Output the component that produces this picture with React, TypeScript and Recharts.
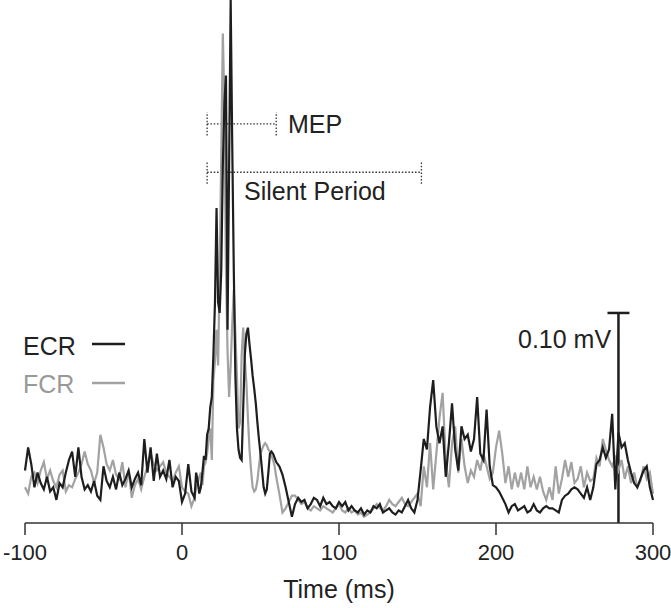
import { LineChart, Line, XAxis, YAxis, ReferenceLine } from "recharts";

// time in ms (2 ms steps, 1 ms around the MEP)
const time = [
  -100, -98, -96, -94, -92, -90, -88, -86, -84, -82,
  -80, -78, -76, -74, -72, -70, -68, -66, -64, -62,
  -60, -58, -56, -54, -52, -50, -48, -46, -44, -42,
  -40, -38, -36, -34, -32, -30, -28, -26, -24, -22,
  -20, -18, -16, -14, -12, -10, -8, -6, -4, -2,
  0, 2, 4, 6, 8,
  9, 10, 11, 12, 13, 14, 15, 16, 17, 18,
  19, 20, 21, 22, 23, 24, 25, 26, 27, 28,
  29, 30, 31, 32, 33, 34, 35, 36, 37, 38,
  39, 40, 41, 42, 43, 44, 45, 46, 47, 48,
  49, 50, 51, 52, 53, 54, 55, 56, 57, 58,
  59, 60,
  62, 64, 66, 68, 70, 72, 74, 76, 78, 80,
  82, 84, 86, 88, 90, 92, 94, 96, 98, 100,
  102, 104, 106, 108, 110, 112, 114, 116, 118, 120,
  122, 124, 126, 128, 130, 132, 134, 136, 138, 140,
  142, 144, 146, 148, 150, 152, 154, 156, 158, 160,
  162, 164, 166, 168, 170, 172, 174, 176, 178, 180,
  182, 184, 186, 188, 190, 192, 194, 196, 198, 200,
  202, 204, 206, 208, 210, 212, 214, 216, 218, 220,
  222, 224, 226, 228, 230, 232, 234, 236, 238, 240,
  242, 244, 246, 248, 250, 252, 254, 256, 258, 260,
  262, 264, 266, 268, 270, 272, 274, 276, 278, 280,
  282, 284, 286, 288, 290, 292, 294, 296, 298, 300,
];

// rectified EMG, microvolts
const ecr = [
  25, 36, 28, 17, 24, 19, 16, 22, 15, 17,
  11, 19, 17, 24, 30, 34, 22, 36, 22, 16,
  18, 15, 20, 13, 11, 27, 20, 17, 22, 16,
  24, 18, 21, 25, 17, 21, 24, 18, 40, 24,
  36, 20, 33, 22, 25, 21, 30, 17, 22, 20,
  10, 14, 28, 15, 12,
  24, 20, 14, 17, 24, 32, 30, 42, 45, 55,
  60, 80, 105, 150, 105, 100, 120, 170, 200, 213,
  92, 170, 249, 180, 120, 70, 45, 35, 31, 30,
  55, 80, 90, 93, 85, 78, 70, 64, 57, 48,
  40, 33, 25, 17, 14, 16, 24, 33, 34, 33,
  31, 29,
  27, 23, 17, 10, 3, 9, 12, 10, 11, 7,
  9, 12, 11, 8, 12, 9, 10, 8, 7, 10,
  8, 10, 6, 8, 6, 5, 7, 4, 6, 5,
  8, 7, 9, 5, 6, 7, 5, 4, 6, 5,
  8, 11, 7, 5, 11, 25, 40, 35, 55, 68,
  46, 38, 46, 22, 38, 57, 35, 25, 46, 40,
  42, 34, 40, 60, 33, 30, 54, 27, 18, 17,
  15, 12, 9, 5, 8, 9, 6, 7, 8, 5,
  6, 9, 6, 5, 7, 8, 7, 7, 6, 5,
  11, 13, 14, 16, 17, 16, 14, 12, 17, 11,
  17, 28, 30, 36, 31, 35, 52, 16, 43, 36,
  38, 30, 24, 19, 17, 21, 25, 27, 17, 11,
];

const fcr = [
  17, 14, 22, 24, 19, 25, 29, 21, 25, 20,
  17, 23, 25, 15, 18, 17, 21, 24, 28, 34,
  28, 25, 19, 24, 42, 36, 28, 25, 30, 23,
  21, 29, 17, 25, 12, 18, 21, 16, 22, 27,
  33, 28, 25, 27, 29, 24, 22, 20, 24, 27,
  17, 15, 14, 8, 12,
  17, 19, 22, 24, 18, 27, 29, 33, 40, 45,
  30, 68, 77, 92, 75, 120, 175, 233, 200, 120,
  82, 60, 75, 95, 111, 90, 70, 45, 48, 80,
  93, 78, 67, 50, 35, 25, 17, 15, 16, 20,
  27, 33, 35, 37, 38, 37, 35, 34, 32, 30,
  27, 22,
  14, 5, 7, 10, 13, 13, 11, 9, 10, 7,
  6, 8, 7, 6, 8, 7, 6, 5, 7, 9,
  6, 5, 7, 5, 6, 4, 5, 3, 4, 5,
  7, 9, 7, 6, 8, 11, 9, 8, 10, 12,
  9, 8, 10, 12, 14, 8, 27, 17, 38, 16,
  33, 50, 62, 30, 17, 38, 46, 24, 40, 27,
  19, 25, 22, 30, 25, 33, 27, 21, 24, 36,
  44, 33, 19, 27, 16, 24, 17, 24, 16, 27,
  17, 22, 16, 22, 15, 11, 17, 11, 27, 14,
  21, 30, 22, 29, 19, 21, 27, 17, 24, 20,
  21, 31, 27, 40, 35, 30, 27, 31, 25, 30,
  21, 27, 19, 24, 17, 20, 27, 21, 24, 14,
];

const xTicks = [-100, 0, 100, 200, 300];

const data = time.map((t, i) => ({ t, ecr: ecr[i], fcr: fcr[i] }));

const DARK = "#1e1e1e";
const GRAY = "#a2a2a2";
const FONT = "'Liberation Sans', Arial, sans-serif";
const dotted = { stroke: "#333", strokeWidth: 1.3, strokeDasharray: "1.5 1.8" };

export default function App() {
  return (
    <div style={{ position: "absolute", left: 0, top: 0, width: 671, height: 608 }}>
      <LineChart
        width={671}
        height={608}
        data={data}
        margin={{ top: 0, right: 18, bottom: 0, left: 25 }}
      >
        <XAxis
          dataKey="t"
          type="number"
          domain={[-100, 300]}
          ticks={xTicks}
          height={85}
          stroke="#333"
          strokeWidth={1.5}
          tickSize={12}
          tickMargin={9}
          tick={{ fontSize: 22, fill: "#222", fontFamily: FONT }}
        />
        <YAxis hide type="number" domain={[0, 249]} />

        {/* MEP bracket */}
        <ReferenceLine segment={[{ x: 16, y: 190 }, { x: 60, y: 190 }]} {...dotted} />
        <ReferenceLine segment={[{ x: 16, y: 184.5 }, { x: 16, y: 195.5 }]} {...dotted} />
        <ReferenceLine segment={[{ x: 60, y: 184.5 }, { x: 60, y: 195.5 }]} {...dotted} />
        {/* silent period bracket */}
        <ReferenceLine segment={[{ x: 16, y: 167 }, { x: 152.5, y: 167 }]} {...dotted} />
        <ReferenceLine segment={[{ x: 16, y: 161.5 }, { x: 16, y: 172.5 }]} {...dotted} />
        <ReferenceLine segment={[{ x: 152.5, y: 161.5 }, { x: 152.5, y: 172.5 }]} {...dotted} />

        {/* 0.10 mV scale bar */}
        <ReferenceLine segment={[{ x: 278, y: 0 }, { x: 278, y: 100 }]} stroke={DARK} strokeWidth={2.5} />
        <ReferenceLine segment={[{ x: 271, y: 100 }, { x: 285, y: 100 }]} stroke={DARK} strokeWidth={2.5} />

        <Line
          dataKey="fcr"
          stroke={GRAY}
          strokeWidth={2.2}
          dot={false}
          isAnimationActive={false}
        />
        <Line
          dataKey="ecr"
          stroke={DARK}
          strokeWidth={2.2}
          dot={false}
          isAnimationActive={false}
        />
      </LineChart>

      <svg
        width={671}
        height={608}
        style={{ position: "absolute", left: 0, top: 0, pointerEvents: "none" }}
        fontFamily={FONT}
        fontSize={25}
      >
        <text x={288} y={133} fill="#222">MEP</text>
        <text x={244} y={200} fill="#222">Silent Period</text>
        <text x={518} y={348} fill="#222">0.10 mV</text>
        <text x={23} y={355} fill="#222">ECR</text>
        <line x1={92} y1={344} x2={125} y2={344} stroke={DARK} strokeWidth={2.5} />
        <text x={23} y={393} fill="#999">FCR</text>
        <line x1={92} y1={383} x2={125} y2={383} stroke={GRAY} strokeWidth={2.5} />
        <text x={339} y={598} textAnchor="middle" fill="#222">Time (ms)</text>
      </svg>
    </div>
  );
}
